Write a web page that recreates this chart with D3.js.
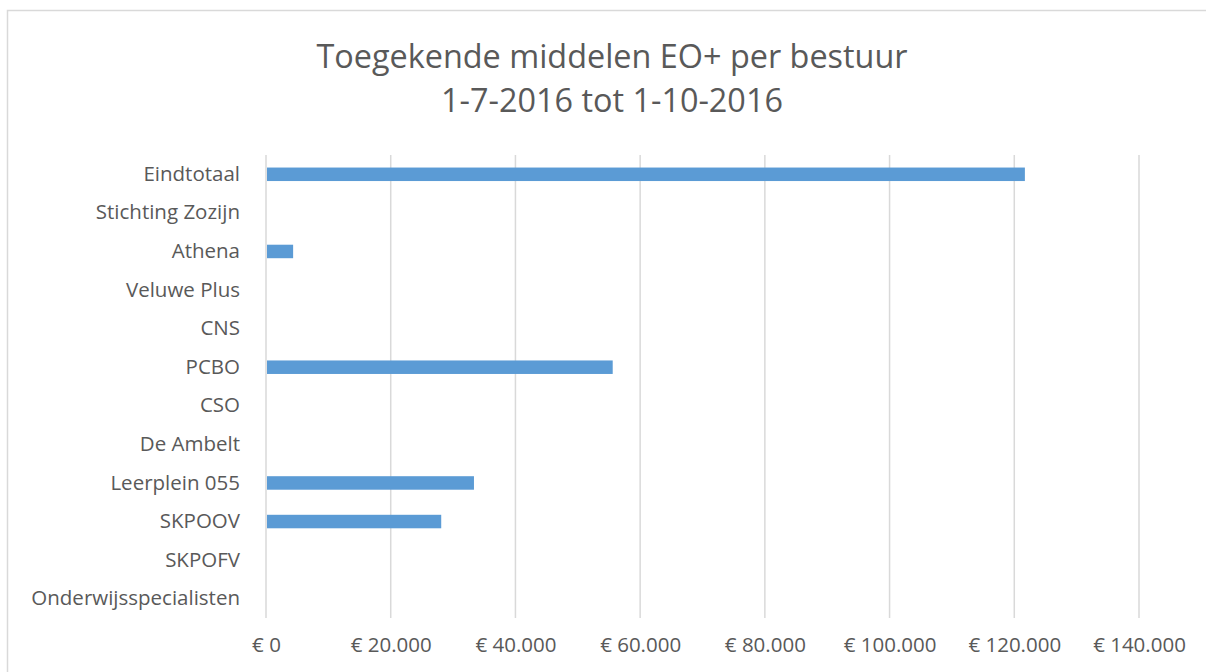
<!DOCTYPE html>
<html>
<head>
<meta charset="utf-8">
<script src="https://cdn.jsdelivr.net/npm/d3@7"></script>
<style>
  body { margin: 0; background: #fff; }
  text { font-family: "Open Sans", "Noto Sans", sans-serif; fill: #595959; }
</style>
</head>
<body>
<div id="chart"></div>
<script>
const categories = ["Eindtotaal", "Stichting Zozijn", "Athena", "Veluwe Plus", "CNS", "PCBO",
  "CSO", "De Ambelt", "Leerplein 055", "SKPOOV", "SKPOFV", "Onderwijsspecialisten"];
const values = [121700, 0, 4350, 0, 0, 55600, 0, 0, 33350, 28100, 0, 0];
const xTicks = [0, 20000, 40000, 60000, 80000, 100000, 120000, 140000];
const titleLines = ["Toegekende middelen EO+ per bestuur", "1-7-2016 tot 1-10-2016"];

const width = 1206;
const height = 672;

const svg = d3.select("#chart")
    .append("svg")
    .attr("width", width)
    .attr("height", height);

// chart area border
svg.append("rect")
    .attr("x", 7.5)
    .attr("y", 10.5)
    .attr("width", 1220)
    .attr("height", 700)
    .attr("fill", "none")
    .attr("stroke", "#d9d9d9")
    .attr("stroke-width", 1.5);

const data = categories.map((c, i) => ({ name: c, value: values[i] }));

const x = d3.scaleLinear()
    .domain([0, 140000])
    .range([266, 1139]);

const y = d3.scaleBand()
    .domain(categories)
    .range([155, 618])
    .paddingInner(0.65)
    .paddingOuter(0.325);

// gridlines
svg.append("g")
    .selectAll("line")
    .data(xTicks)
    .enter().append("line")
    .attr("x1", d => x(d))
    .attr("x2", d => x(d))
    .attr("y1", 155)
    .attr("y2", 618)
    .attr("stroke", "#d9d9d9")
    .attr("stroke-width", 1.5);

// bars
svg.append("g")
    .selectAll("rect")
    .data(data.filter(d => d.value > 0))
    .enter().append("rect")
    .attr("x", x(0) + 1)
    .attr("y", d => y(d.name))
    .attr("width", d => x(d.value) - x(0) - 1)
    .attr("height", y.bandwidth())
    .attr("fill", "#5b9bd5");

// x axis labels
const fmt = d => "€ " + d3.format(",")(d).replace(/,/g, ".");
const xAxis = d3.axisBottom(x).tickValues(xTicks).tickFormat(fmt).tickSize(0).tickPadding(0);
const gx = svg.append("g")
    .attr("transform", "translate(0,630)")
    .call(xAxis);
gx.select(".domain").remove();
gx.selectAll("text")
    .attr("y", 22)
    .attr("dy", 0)
    .style("font-size", "20.5px")
    .style("font-family", "'Open Sans', sans-serif")
    .attr("fill", "#595959");

// y axis labels
const yAxis = d3.axisLeft(y).tickSize(0).tickPadding(0);
const gy = svg.append("g")
    .attr("transform", "translate(240,0)")
    .call(yAxis);
gy.select(".domain").remove();
gy.selectAll("text")
    .style("font-size", "20.5px")
    .style("font-family", "'Open Sans', sans-serif")
    .attr("fill", "#595959");

// title
svg.append("g")
    .selectAll("text")
    .data(titleLines)
    .enter().append("text")
    .attr("x", 612)
    .attr("y", (d, i) => 68 + i * 44)
    .attr("text-anchor", "middle")
    .style("font-size", "32.4px")
    .text(d => d);
</script>
</body>
</html>
